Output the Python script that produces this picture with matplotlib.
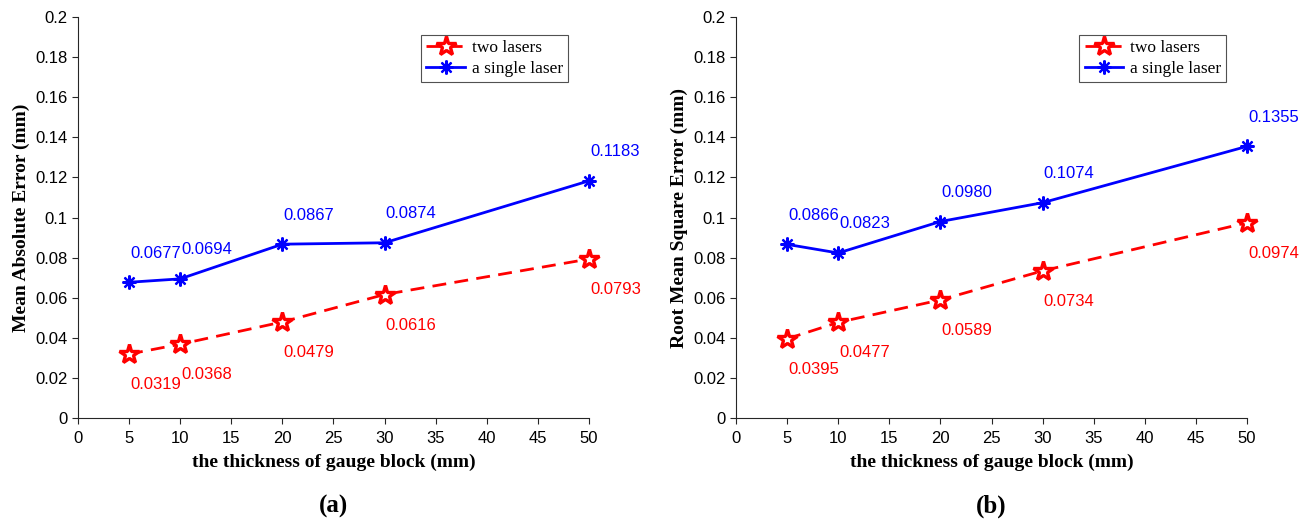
import matplotlib.pyplot as plt

# gauge block thickness (mm)
thickness = [5, 10, 20, 30, 50]

# (a) mean absolute error (mm)
mae_two = [0.0319, 0.0368, 0.0479, 0.0616, 0.0793]
mae_single = [0.0677, 0.0694, 0.0867, 0.0874, 0.1183]

# (b) root mean square error (mm)
rmse_two = [0.0395, 0.0477, 0.0589, 0.0734, 0.0974]
rmse_single = [0.0866, 0.0823, 0.0980, 0.1074, 0.1355]

xticks = list(range(0, 55, 5))
yticks = [i / 100 for i in range(0, 22, 2)]
ytick_labels = ['0', '0.02', '0.04', '0.06', '0.08', '0.1',
                '0.12', '0.14', '0.16', '0.18', '0.2']

SERIF = 'Liberation Serif'
SANS = 'Liberation Sans'

fig = plt.figure(figsize=(13.08, 5.19), dpi=100)
ax_a = fig.add_axes([0.0596, 0.1946, 0.3907, 0.7726])
ax_b = fig.add_axes([0.5627, 0.1946, 0.3907, 0.7726])


def draw_panel(ax, two, single, ylabel, tag):
    ax.plot(thickness, two, color='red', ls='--', lw=2, marker='*',
            ms=15, mfc='white', mec='red', mew=2.4, dashes=(5, 3),
            label='two lasers', clip_on=False)
    ax.plot(thickness, single, color='blue', lw=2, marker=(8, 2, 0),
            ms=10, mec='blue', mew=1.6, label='a single laser',
            clip_on=False)

    # value labels: single laser above, two lasers below
    for x, v in zip(thickness, single):
        ax.annotate(f'{v:.4f}', (x, v), xytext=(19, 21),
                    textcoords='offset points', ha='center', va='center',
                    color='blue', fontsize=12, family=SANS)
    for x, v in zip(thickness, two):
        ax.annotate(f'{v:.4f}', (x, v), xytext=(19, -22),
                    textcoords='offset points', ha='center', va='center',
                    color='red', fontsize=12, family=SANS)

    ax.set_xlim(0, 50)
    ax.set_ylim(0, 0.2)
    ax.set_xticks(xticks)
    ax.set_yticks(yticks)
    ax.set_yticklabels(ytick_labels)
    for lbl in ax.get_xticklabels() + ax.get_yticklabels():
        lbl.set_family(SANS)
        lbl.set_fontsize(12)
    ax.tick_params(direction='out', length=4, width=0.8, colors='#262626',
                   labelcolor='black')
    ax.tick_params(axis='x', pad=5)
    ax.spines['top'].set_visible(False)
    ax.spines['right'].set_visible(False)
    for s in ('left', 'bottom'):
        ax.spines[s].set_color('#262626')
        ax.spines[s].set_linewidth(0.8)

    ax.set_xlabel('the thickness of gauge block (mm)', family=SERIF,
                  fontweight='bold', fontsize=14, labelpad=6)
    ax.set_ylabel(ylabel, family=SERIF, fontweight='bold', fontsize=14,
                  labelpad=4)

    leg = ax.legend(loc='upper left', bbox_to_anchor=(0.665, 0.965),
                    prop={'family': SERIF, 'size': 12.5}, frameon=True,
                    fancybox=False, edgecolor='#262626', borderpad=0.3,
                    handlelength=2.2, handletextpad=0.4, labelspacing=0.3,
                    borderaxespad=0.2)
    leg.get_frame().set_linewidth(0.8)

    ax.text(0.5, -0.22, tag, transform=ax.transAxes, ha='center',
            va='center', family=SERIF, fontweight='bold', fontsize=18)


draw_panel(ax_a, mae_two, mae_single, 'Mean Absolute Error (mm)', '(a)')
draw_panel(ax_b, rmse_two, rmse_single, 'Root Mean Square Error (mm)', '(b)')

fig.savefig('out.png', dpi=100)
